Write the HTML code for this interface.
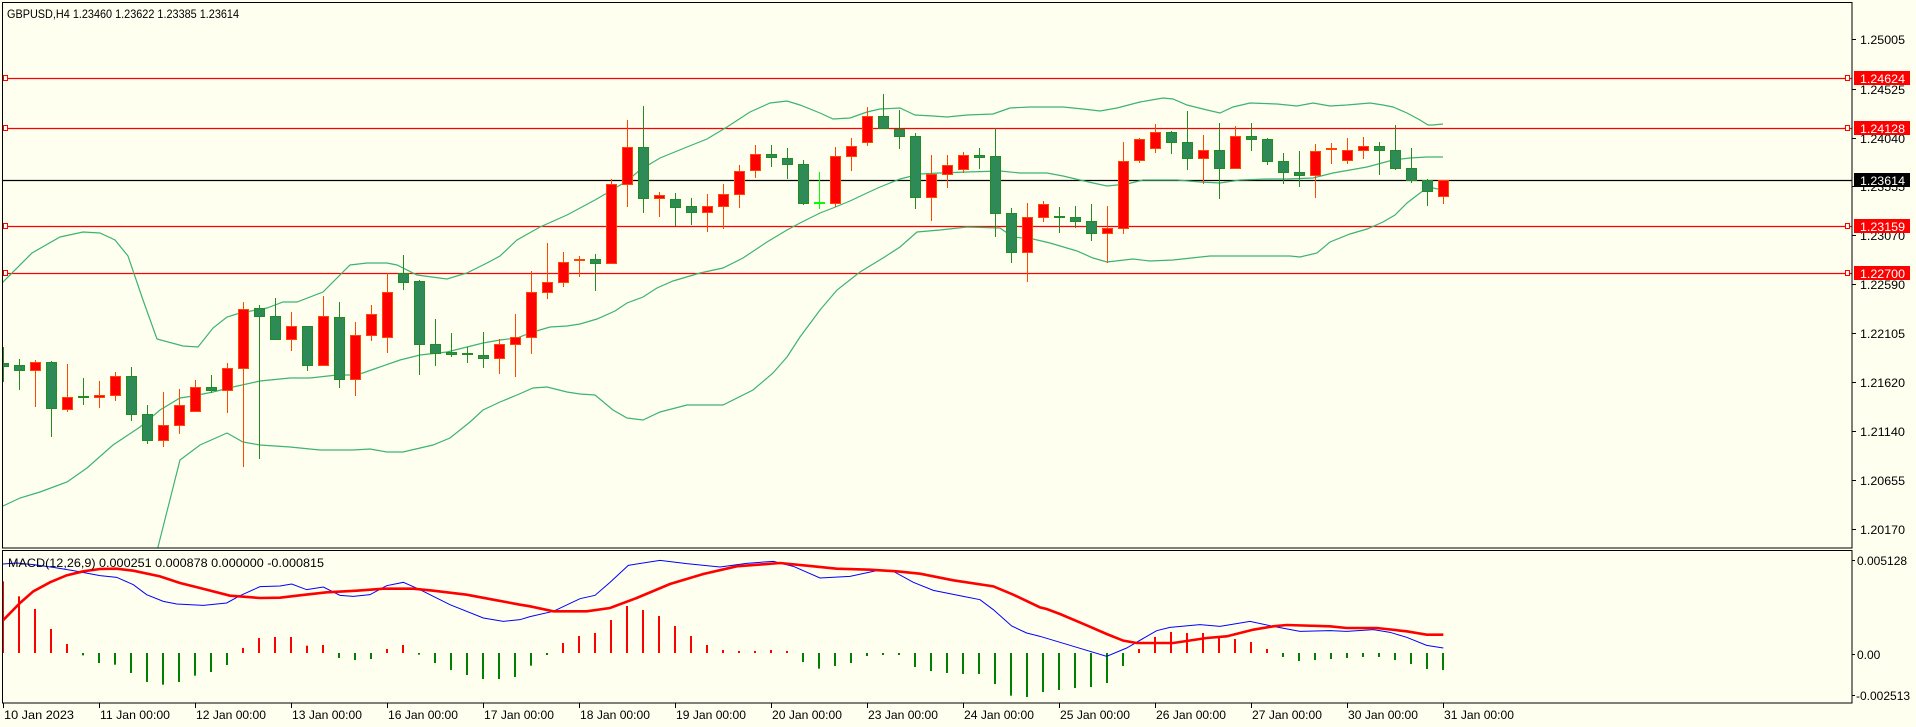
<!DOCTYPE html>
<html><head><meta charset="utf-8"><style>
html,body{margin:0;padding:0;background:#fffff0;}
svg{display:block;}
text{font-family:"Liberation Sans",sans-serif;fill:#000;}
</style></head><body>
<svg id="s" width="1916" height="727" viewBox="0 0 1916 727" xmlns="http://www.w3.org/2000/svg">
<rect x="0" y="0" width="1916" height="727" fill="#fffff0"/>
<defs><clipPath id="cm"><rect x="3" y="3" width="1849" height="545"/></clipPath>
<clipPath id="cd"><rect x="3" y="551" width="1849" height="152"/></clipPath></defs>
<g id="main" clip-path="url(#cm)"></g>
<g id="macd" clip-path="url(#cd)"></g>
<g id="ax"></g>
</svg>
<script>
var NS="http://www.w3.org/2000/svg";
function el(p,t,a,txt){var e=document.createElementNS(NS,t);for(var k in a)e.setAttribute(k,a[k]);if(txt!==undefined)e.textContent=txt;p.appendChild(e);return e;}
var M=document.getElementById('main'),D=document.getElementById('macd'),A=document.getElementById('ax');
// bands
function pl(g,pts,col,w){el(g,'polyline',{points:pts.map(function(p){return p[0]+','+p[1]}).join(' '),fill:'none',stroke:col,'stroke-width':w});}
var up=[[2,283],[32,253],[60,237],[83,232],[100,233],[115,240],[128,256],[143,300],[157,339],[183,346],[198,347],[213,328],[227,317],[240,313],[267,308],[283,302],[297,302],[323,292],[350,265],[367,263],[387,263],[397,265],[417,275],[447,279],[467,273],[487,263],[500,256],[517,240],[540,227],[567,215],[595,200],[607,193],[627,181],[640,170],[660,158],[687,147],[707,139],[727,127],[750,112],[770,103],[787,101],[800,105],[820,113],[833,119],[850,118],[867,112],[880,109],[900,108],[915,115],[933,116],[947,117],[967,115],[993,114],[1010,108],[1030,107],[1050,107],[1063,107],[1083,109],[1100,111],[1117,108],[1140,102],[1163,98],[1173,99],[1187,105],[1207,110],[1220,113],[1233,107],[1250,103],[1277,104],[1297,106],[1313,103],[1330,106],[1347,105],[1370,103],[1383,105],[1393,107],[1407,113],[1420,120],[1428,125],[1433,125],[1443,124]];
var md=[[3,506],[20,498],[40,492],[67,482],[87,468],[113,445],[140,427],[160,410],[180,398],[193,396],[213,392],[233,387],[260,381],[290,378],[310,378],[337,375],[357,375],[377,368],[400,360],[420,355],[447,352],[483,343],[500,340],[517,338],[533,332],[550,327],[567,326],[580,324],[597,319],[615,311],[627,303],[643,297],[657,288],[673,281],[700,273],[723,268],[743,258],[767,242],[787,230],[800,223],[820,213],[833,208],[850,201],[867,193],[880,187],[900,179],[920,174],[940,173],[967,172],[1000,171],[1020,173],[1047,173],[1063,176],[1080,180],[1093,183],[1107,186],[1127,184],[1143,180],[1177,180],[1200,182],[1220,183],[1240,180],[1267,179],[1287,179],[1313,178],[1333,173],[1367,167],[1393,160],[1410,158],[1427,157],[1443,157]];
var lo=[[130,640],[150,580],[158,547],[180,460],[200,445],[227,433],[243,442],[260,445],[290,447],[320,450],[353,450],[370,449],[387,452],[403,452],[433,445],[450,438],[470,422],[483,410],[500,402],[517,395],[533,388],[547,387],[567,392],[580,394],[595,395],[613,410],[627,418],[643,420],[660,412],[687,405],[723,405],[753,390],[773,373],[787,357],[800,337],[820,310],[837,290],[860,272],[883,258],[900,247],[917,232],[940,230],[967,227],[1000,228],[1013,237],[1033,239],[1050,243],[1077,251],[1093,258],[1107,262],[1133,259],[1150,261],[1173,260],[1210,256],[1250,256],[1290,256],[1300,257],[1317,253],[1330,242],[1350,234],[1367,229],[1383,222],[1395,215],[1407,203],[1420,193],[1427,188],[1433,188],[1443,190]];
// horizontal lines
[[78,'#ff0000'],[128,'#ff0000'],[226,'#ff0000'],[273,'#ff0000']].forEach(function(l){el(M,'line',{x1:0,x2:1852,y1:l[0]+0.5,y2:l[0]+0.5,stroke:l[1],'stroke-width':1.3});
 el(M,'rect',{x:3.5,y:l[0]-2.5,width:4,height:5,fill:'#fffff0',stroke:'#ff0000','stroke-width':1});
 el(M,'rect',{x:1845.5,y:l[0]-2.5,width:4,height:5,fill:'#fffff0',stroke:'#ff0000','stroke-width':1});});
el(M,'line',{x1:0,x2:1852,y1:180.5,y2:180.5,stroke:'#000','stroke-width':1.3});
pl(M,up,'#3cb371',1.2);pl(M,md,'#3cb371',1.2);pl(M,lo,'#3cb371',1.2);
var C=[['g',363,366,347,382],['g',365,370,359,390],['r',362,370,360,407],['g',362,408,361,437],['r',397,409,364,412],['g',397,397,378,405],['r',395,397,381,408],['r',376,395,372,401],['g',376,414,367,421],['g',414,440,405,444],['r',425,440,392,447],['r',405,425,389,434],['r',387,411,380,411],['g',387,390,375,393],['r',368,390,363,413],['r',309,368,302,467],['g',308,316,305,459],['g',316,339,298,339],['r',326,339,312,351],['g',326,365,326,371],['r',316,365,296,365],['g',317,379,302,388],['r',335,379,322,396],['r',314,335,305,341],['r',292,337,273,353],['g',273,282,255,290],['g',281,344,280,375],['g',344,353,319,366],['g',352,354,333,357],['g',354,355,347,363],['g',355,358,332,368],['r',344,358,339,374],['r',337,344,314,377],['r',292,337,271,354],['r',282,292,243,299],['r',262,282,252,287],['r',260,261,256,277],['g',259,263,254,291],['r',184,263,179,263],['r',147,184,120,207],['g',147,198,106,213],['r',195,198,192,217],['g',199,207,193,226],['g',206,212,198,225],['r',206,212,194,232],['r',194,206,184,229],['r',171,194,165,208],['r',154,170,145,178],['g',154,157,145,167],['g',158,164,148,179],['g',164,203,160,205],['l',203,203,172,209],['r',156,203,147,207],['r',146,156,138,171],['r',116,142,107,146],['g',116,128,94,128],['g',129,136,110,149],['g',136,197,133,209],['r',174,197,155,221],['r',165,174,155,188],['r',155,169,152,173],['g',155,157,148,169],['g',156,213,128,237],['g',213,252,208,263],['r',217,252,203,282],['r',204,217,201,222],['g',217,217,207,233],['g',217,221,206,228],['g',221,233,204,241],['r',228,233,206,263],['r',161,228,142,234],['r',139,160,138,163],['r',132,148,124,153],['g',132,142,131,154],['g',142,158,111,170],['r',150,158,135,184],['g',150,168,123,199],['r',136,168,126,169],['g',136,139,123,151],['g',139,161,138,165],['g',161,172,153,184],['g',172,175,151,187],['r',151,175,144,198],['r',149,150,143,164],['r',150,160,138,164],['r',146,150,137,159],['g',146,150,142,175],['g',150,168,125,170],['g',168,180,148,183],['g',180,191,179,206],['r',180,196,180,204]];
C.forEach(function(c,k){var x=3+16*k;var t=c[0];
 var bc=t=='g'?'#228b22':(t=='r'?'#ff4500':'#00ff00');var fc=t=='g'?'#2e8b57':(t=='r'?'#ff0000':'#00ff00');
 el(M,'rect',{x:x,y:c[3],width:1,height:c[4]-c[3],fill:bc,'shape-rendering':'crispEdges'});
 var h=c[2]-c[1];
 if(h<2){el(M,'rect',{x:x-5,y:c[1]-1,width:11,height:2,fill:bc,'shape-rendering':'crispEdges'});}
 else{el(M,'rect',{x:x-5,y:c[1],width:11,height:h+1,fill:bc,'shape-rendering':'crispEdges'});
  el(M,'rect',{x:x-4,y:c[1]+1,width:9,height:h-1,fill:fc,'shape-rendering':'crispEdges'});}
});
// MACD
var H=[100,145,183,243,288,322,345,350,375,402,410,402,383,372,351,300,270,267,267,293,291,330,336,333,303,291,320,345,366,381,393,393,387,353,321,285,264,255,216,174,186,204,234,264,291,306,312,309,306,312,342,362,354,345,324,318,321,357,369,375,378,378,408,443,447,432,426,420,417,405,354,303,267,252,255,255,267,273,282,303,327,339,336,333,330,327,327,336,348,363,366];
var z=653;
H.forEach(function(v,k){var x=3+16*k;var y=548+v/3;var col=v<315?'#ff0000':'#008000';
 var t=Math.min(y,z),b=Math.max(y,z);if(b-t<1.5){if(v<315)t=z-2;else b=z+2;}
 el(D,'rect',{x:x-1,y:t,width:2,height:b-t,fill:col});});
function cv(ox,pts){return pts.map(function(p){return [ox+p[0]/3,548+p[1]/3];});}
var sig=cv(0,[[8,218],[60,165],[100,130],[150,103],[200,82],[250,70],[300,63],[350,62],[400,68],[480,85],[540,105],[600,120],[690,143],[780,150],[840,149],[900,142],[980,133],[1070,128],[1150,122],[1240,122],[1300,128],[1400,140],[1480,155],[1560,170]]).concat(cv(520,[[30,175],[100,190],[200,190],[270,180],[350,150],[450,108],[550,78],[650,55],[780,45],[880,55],[950,62],[1050,65],[1130,70],[1200,77],[1300,97],[1420,115],[1480,140],[1560,178]])).concat(cv(1040,[[20,183],[60,198],[140,232],[200,258],[250,278],[290,285],[400,285],[500,270],[560,265],[640,245],[700,235],[740,231],[870,235],[920,240],[1010,240],[1100,250],[1160,260],[1210,260]]));
var mac=cv(0,[[8,48],[50,45],[100,50],[160,58],[220,68],[300,83],[350,88],[400,110],[440,140],[490,160],[530,168],[610,172],[680,165],[720,143],[780,116],[840,114],[875,108],[920,125],[970,117],[1020,142],[1060,145],[1110,140],[1160,113],[1210,103],[1260,125],[1350,170],[1450,210],[1510,220],[1560,215]]).concat(cv(520,[[30,206],[100,190],[180,152],[225,142],[270,103],[325,52],[420,37],[500,47],[600,57],[680,46],[760,40],[820,55],[900,90],[990,85],[1070,68],[1120,70],[1180,103],[1240,127],[1330,145],[1380,155],[1420,185],[1475,234],[1520,255],[1560,265]])).concat(cv(1040,[[20,271],[100,295],[200,325],[260,300],[350,248],[390,238],[480,230],[540,235],[630,220],[700,235],[780,250],[870,248],[920,250],[1000,245],[1050,253],[1100,268],[1160,292],[1210,300]]));
pl(D,mac,'#0000ff',1);pl(D,sig,'#ff0000',2.6);
el(D,'text',{x:8,y:567,'font-size':'12','textLength':316,lengthAdjust:'spacingAndGlyphs'},'MACD(12,26,9) 0.000251 0.000878 0.000000 -0.000815');
// frames
el(A,'rect',{x:2.5,y:2.5,width:1849.5,height:545.5,fill:'none',stroke:'#000','stroke-width':1});
el(A,'rect',{x:2.5,y:550.5,width:1849.5,height:152.5,fill:'none',stroke:'#000','stroke-width':1});
el(A,'text',{x:7,y:18,'font-size':'12','textLength':232,lengthAdjust:'spacingAndGlyphs'},'GBPUSD,H4  1.23460 1.23622 1.23385 1.23614');
[['1.25005',39],['1.24525',89],['1.24040',138],['1.23555',186],['1.23070',235],['1.22590',284],['1.22105',333],['1.21620',382],['1.21140',431],['1.20655',480],['1.20170',529]].forEach(function(l){
 el(A,'line',{x1:1852,x2:1856,y1:l[1]+0.5,y2:l[1]+0.5,stroke:'#000'});
 el(A,'text',{x:1860,y:l[1]+5,'font-size':'12','textLength':45,lengthAdjust:'spacingAndGlyphs'},l[0]);});
[['1.24624',78,'#ff0000','#fff'],['1.24128',128,'#ff0000','#fff'],['1.23614',180,'#000','#fff'],['1.23159',226,'#ff0000','#fff'],['1.22700',273,'#ff0000','#fff']].forEach(function(l){
 el(A,'rect',{x:1854,y:l[1]-7,width:56,height:14,fill:l[2]});
 el(A,'text',{x:1860,y:l[1]+5,'font-size':'12','textLength':45,lengthAdjust:'spacingAndGlyphs',style:'fill:'+l[3]},l[0]);});
[['0.005128',560],['0.00',654],['-0.002513',695]].forEach(function(l){
 el(A,'line',{x1:1852,x2:1855,y1:l[1]+0.5,y2:l[1]+0.5,stroke:'#000'});
 el(A,'text',{x:l[0][0]=='-'?1856:1857,y:l[1]+5,'font-size':'12'},l[0]);});
var T=['10 Jan 2023','11 Jan 00:00','12 Jan 00:00','13 Jan 00:00','16 Jan 00:00','17 Jan 00:00','18 Jan 00:00','19 Jan 00:00','20 Jan 00:00','23 Jan 00:00','24 Jan 00:00','25 Jan 00:00','26 Jan 00:00','27 Jan 00:00','30 Jan 00:00','31 Jan 00:00'];
T.forEach(function(s,i){var x=3+96*i;el(A,'line',{x1:x+0.5,x2:x+0.5,y1:703,y2:708,stroke:'#000'});
 el(A,'text',{x:x+1,y:719,'font-size':'12','textLength':70,lengthAdjust:'spacingAndGlyphs'},s);});
</script>
</body></html>
